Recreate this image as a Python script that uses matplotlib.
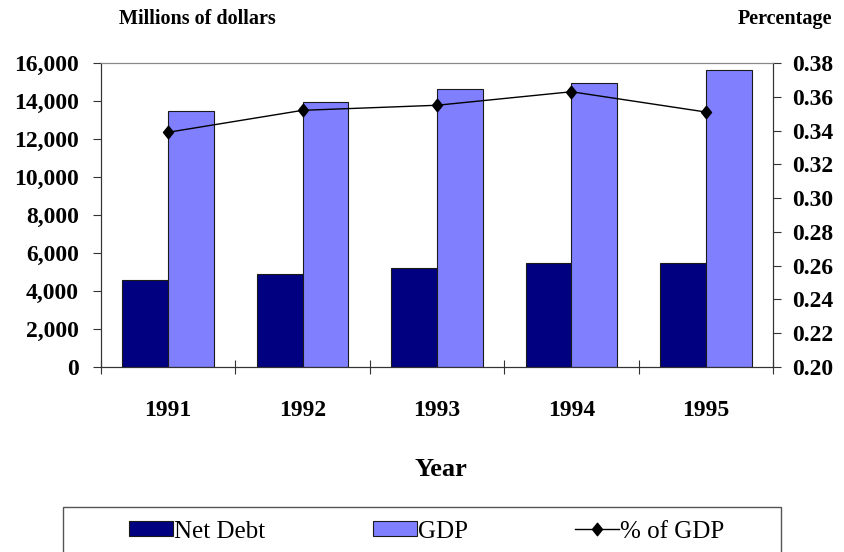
import matplotlib
matplotlib.use("Agg")
import matplotlib.pyplot as plt
import numpy as np
from matplotlib.ticker import FuncFormatter, FixedLocator
from matplotlib.patches import Rectangle
from matplotlib.path import Path

years = ["1991", "1992", "1993", "1994", "1995"]
net_debt = [4600, 4900, 5230, 5470, 5470]
gdp = [13500, 13950, 14630, 14950, 15630]
pct_gdp = [0.339, 0.352, 0.355, 0.363, 0.351]

plt.rcParams['font.family'] = ['Liberation Serif', 'DejaVu Serif']

fig = plt.figure(figsize=(8.45, 5.52), dpi=100)
ax = fig.add_axes([0.1195, 0.3351, 0.7953, 0.5507])
ax2 = ax.twinx()

diamond = Path([(0, 1), (0.8, 0), (0, -1), (-0.8, 0), (0, 1)],
               [Path.MOVETO, Path.LINETO, Path.LINETO, Path.LINETO, Path.CLOSEPOLY])

x = np.arange(len(years))
w = 0.34
ax.bar(x - w / 2, net_debt, width=w, color="#000080", edgecolor="#1a1a1a", linewidth=0.8, label="Net Debt", zorder=2)
ax.bar(x + w / 2, gdp, width=w, color="#8080FF", edgecolor="#1a1a1a", linewidth=0.8, label="GDP", zorder=2)
ax2.plot(x, pct_gdp, color="black", linewidth=1.0, marker=diamond, markersize=9, label="% of GDP")

ax.set_xlim(-0.5, len(years) - 0.5)
ax.set_ylim(0, 16000)
ax.set_yticks(np.arange(0, 16001, 2000))
ax.yaxis.set_major_formatter(FuncFormatter(lambda v, p: f"{int(v):,}"))
ax2.set_ylim(0.20, 0.38)
ax2.set_yticks(np.arange(0.20, 0.3801, 0.02))
ax2.yaxis.set_major_formatter(FuncFormatter(lambda v, p: f"{v:.2f}"))

ax.xaxis.set_major_locator(FixedLocator(np.arange(-0.5, len(years), 1.0)))
ax.xaxis.set_minor_locator(FixedLocator(x))
ax.set_xticklabels([])
ax.set_xticklabels(years, minor=True)
ax.tick_params(axis="x", which="major", direction="inout", length=10, width=0.8, color="#333333")
ax.tick_params(axis="x", which="minor", length=0, pad=24, labelsize=17)
for lab in ax.get_xticklabels(minor=True):
    lab.set_fontweight("bold")

ax.tick_params(axis="y", direction="out", length=6, width=0.8, color="#333333", labelsize=17, pad=10)
ax2.tick_params(axis="y", direction="out", length=6, width=0.8, color="#333333", labelsize=17, pad=8)
for lab in ax.get_yticklabels() + ax2.get_yticklabels():
    lab.set_fontweight("bold")

for a in (ax, ax2):
    a.spines["top"].set_color("#888888")
    a.spines["left"].set_color("#333333")
    a.spines["right"].set_color("#333333")
    a.spines["bottom"].set_color("#333333")

fig.text(0.522, 0.1486, "Year", ha="center", va="center", fontsize=19, fontweight="bold")
fig.text(0.233, 0.965, "Millions of dollars", ha="center", va="center", fontsize=14.5, fontweight="bold")
fig.text(0.929, 0.965, "Percentage", ha="center", va="center", fontsize=14.5, fontweight="bold")

# legend box
fig.patches.append(Rectangle((0.0746, -0.05), 0.8497, 0.1315, transform=fig.transFigure,
                             facecolor="white", edgecolor="#555555", linewidth=1.0))

h1, l1 = ax.get_legend_handles_labels()
h2, l2 = ax2.get_legend_handles_labels()
leg = fig.legend(h1 + h2, l1 + l2, loc="center", bbox_to_anchor=(0.505, 0.037),
                 ncol=3, frameon=False, fontsize=18,
                 handlelength=1.76, handleheight=0.56, handletextpad=0.04,
                 columnspacing=4.3, borderaxespad=0)

fig.savefig("out.png", dpi=100)
